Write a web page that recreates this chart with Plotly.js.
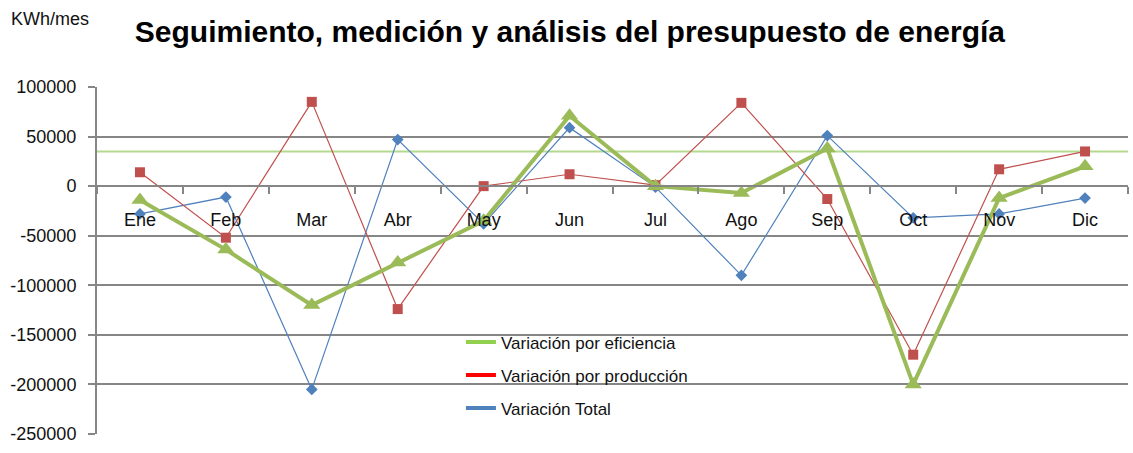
<!DOCTYPE html>
<html>
<head>
<meta charset="utf-8">
<script src="https://cdn.plot.ly/plotly-3.0.1.min.js"></script>
<style>html,body{margin:0;padding:0;background:#fff;}#chart{width:1133px;height:453px;}</style>
</head>
<body>
<div id="chart"></div>
<script>
const months = ["Ene","Feb","Mar","Abr","May","Jun","Jul","Ago","Sep","Oct","Nov","Dic"];
const variacionEficiencia = [-14000,-64000,-120000,-77000,-35000,71000,0,-7000,38000,-200000,-12000,20000];
const variacionProduccion = [14000,-52000,85000,-124000,0,12000,1000,84000,-13000,-170000,17000,35000];
const variacionTotal = [-28000,-11000,-205000,47000,-38000,59000,-1000,-90000,51000,-32000,-28000,-12000];
const metaLinea = 35000;
const yTickVals = [100000,50000,0,-50000,-100000,-150000,-200000,-250000];
const yTickText = ["100000","50000","0","-50000","-100000","-150000","-200000","-250000"];
const yMin = -250000, yMax = 100000;

const FONT = "Liberation Sans, Arial, sans-serif";

const traces = [
  {x: months, y: variacionTotal, type: "scatter", mode: "lines+markers", name: "Variación Total",
   line: {color: "#4F81BD", width: 1.2}, marker: {symbol: "diamond", size: 9, color: "#4F81BD"}, showlegend: false},
  {x: months, y: variacionProduccion, type: "scatter", mode: "lines+markers", name: "Variación por producción",
   line: {color: "#C0504D", width: 1.2}, marker: {symbol: "square", size: 10, color: "#C0504D"}, showlegend: false},
  {x: months, y: variacionEficiencia, type: "scatter", mode: "lines+markers", name: "Variación por eficiencia",
   line: {color: "#9BBB59", width: 4}, marker: {symbol: "triangle-up", size: 15, color: "#9BBB59"}, showlegend: false},
  // legend-only entries
  {x: [months[0]], y: [null], type: "scatter", mode: "lines", name: "Variación por eficiencia", legendgroup: "a", showlegend: true, line: {color: "#92D050", width: 4}},
  {x: [months[0]], y: [null], type: "scatter", mode: "lines", name: "Variación por producción", legendgroup: "b", showlegend: true, line: {color: "#FF0000", width: 4}},
  {x: [months[0]], y: [null], type: "scatter", mode: "lines", name: "Variación Total", legendgroup: "c", showlegend: true, line: {color: "#4F81BD", width: 4}}
];

const layout = {
  width: 1133, height: 453,
  showlegend: true,
  margin: {l: 97, r: 5, t: 87, b: 19},
  paper_bgcolor: "#fff", plot_bgcolor: "#fff",
  font: {family: FONT, color: "#111", size: 17},
  title: {text: "<b>Seguimiento, medición y análisis del presupuesto de energía</b>",
          font: {family: FONT, size: 30, color: "#000"}, x: 0.503, xanchor: "center", y: 0.93, yanchor: "middle"},
  xaxis: {type: "category", anchor: "free", position: (0 - yMin) / (yMax - yMin),
          showline: true, linecolor: "#868686", linewidth: 2,
          ticks: "outside", tickson: "boundaries", ticklen: 7, tickcolor: "#868686", tickwidth: 2,
          showgrid: false, zeroline: false, ticklabelstandoff: 17,
          tickfont: {family: FONT, size: 18, color: "#111"}, range: [-0.5, 11.5]},
  yaxis: {range: [yMin, yMax], domain: [0, 1], tickvals: yTickVals, ticktext: yTickText,
          showline: true, linecolor: "#868686", linewidth: 2, ticks: "outside", ticklen: 7, tickcolor: "#868686", tickwidth: 2,
          showgrid: true, gridcolor: "#868686", gridwidth: 2, zeroline: false, ticklabelstandoff: 8,
          tickfont: {family: FONT, size: 18, color: "#111"}},
  shapes: [{type: "line", xref: "paper", yref: "y", x0: 0, x1: 1, y0: metaLinea, y1: metaLinea,
            line: {color: "#B3DA8E", width: 2}, layer: "below"}],
  annotations: [{text: "KWh/mes", xref: "paper", yref: "paper", x: -0.085, y: 1.196, xanchor: "left", yanchor: "middle",
                 showarrow: false, font: {family: FONT, size: 18, color: "#111"}}],
  legend: {x: 0.353, y: 0.316, xanchor: "left", yanchor: "top", bgcolor: "rgba(0,0,0,0)",
           font: {family: FONT, size: 17, color: "#111"}, tracegroupgap: 8}
};

Plotly.newPlot("chart", traces, layout, {displayModeBar: false});
</script>
</body>
</html>
